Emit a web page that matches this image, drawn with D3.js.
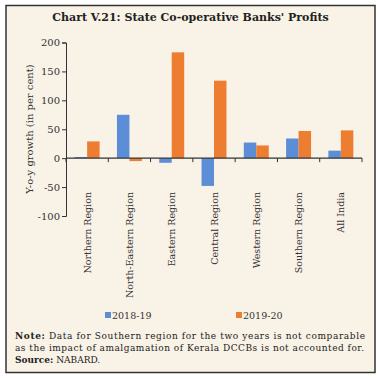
<!DOCTYPE html>
<html><head><meta charset="utf-8">
<script src="https://cdn.jsdelivr.net/npm/d3@7/dist/d3.min.js"></script>
<style>
html,body{margin:0;padding:0;background:#fff;}
svg{display:block;}
</style></head>
<body>
<svg id="chart" width="379" height="379"></svg>
<script>
const categories = ["Northern Region","North-Eastern Region","Eastern Region","Central Region","Western Region","Southern Region","All India"];
const seriesNames = ["2018-19","2019-20"];
const values2018 = [2, 75, -8, -48, 27, 34, 13];
const values2019 = [29, -5, 183, 134, 22, 47, 48];
const yTicks = [-100, -50, 0, 50, 100, 150, 200];
const colors = ["#5b8ed6", "#ed7d31"];

(function(){
const FONT = "'DejaVu Serif', 'Liberation Serif', serif";
const svg = d3.select("#chart");

svg.append("rect").attr("x",6).attr("y",5.5).attr("width",369).attr("height",367)
  .attr("fill","#f9f2e7").attr("stroke","#333").attr("stroke-width",1.5);

svg.append("text").attr("x",190.5).attr("y",21).attr("text-anchor","middle")
  .attr("font-family",FONT).attr("font-weight","bold").attr("font-size",11)
  .attr("fill","#222").text("Chart V.21: State Co-operative Banks' Profits");

const pl = 66, pr = 362, pt = 42.5, pb = 216;
const y = d3.scaleLinear().domain([-100,200]).range([pb, pt]);
const x0 = d3.scaleBand().domain(categories).range([pl,pr]).paddingInner(0.41).paddingOuter(0.205);
const x1 = d3.scaleBand().domain(seriesNames).range([0, x0.bandwidth()]);

const data = categories.map((c,i)=>({cat:c, vals:[values2018[i], values2019[i]]}));

const g = svg.append("g");
data.forEach(d=>{
  d.vals.forEach((v,j)=>{
    g.append("rect")
      .attr("x", x0(d.cat) + x1(seriesNames[j]))
      .attr("width", x1.bandwidth())
      .attr("y", y(Math.max(0,v)))
      .attr("height", Math.abs(y(v)-y(0)))
      .attr("fill", colors[j]);
  });
});

const yAxis = svg.append("g").attr("transform",`translate(${pl},0)`)
  .call(d3.axisLeft(y).tickValues(yTicks).tickSize(4).tickPadding(2).tickFormat(d=>String(d)));
yAxis.selectAll("text").attr("font-family",FONT).attr("font-size",10).attr("fill","#333");
yAxis.selectAll("line,path").attr("stroke","#333").attr("stroke-width",1);

const step = x0.step();
const bounds = d3.range(categories.length+1).map(i=>pl + i*step);
svg.append("line").attr("x1",pl).attr("x2",pr).attr("y1",y(0)).attr("y2",y(0))
  .attr("stroke","#333").attr("stroke-width",1.2);
bounds.forEach(bx=>{
  svg.append("line").attr("x1",bx).attr("x2",bx).attr("y1",y(0)).attr("y2",y(0)+4)
    .attr("stroke","#333").attr("stroke-width",1);
});

categories.forEach(c=>{
  const cx = x0(c) + x0.bandwidth()/2 + 3.5;
  svg.append("text").attr("transform",`translate(${cx},192) rotate(-90)`)
    .attr("text-anchor","end").attr("font-family",FONT).attr("font-size",9.5)
    .attr("fill","#333").text(c);
});

svg.append("text").attr("transform",`translate(33,129) rotate(-90)`)
  .attr("text-anchor","middle").attr("font-family",FONT).attr("font-size",10)
  .attr("fill","#333").text("Y-o-y growth (in per cent)");

const legendX = [105, 236];
seriesNames.forEach((s,j)=>{
  svg.append("rect").attr("x",legendX[j]).attr("y",312).attr("width",6).attr("height",6).attr("fill",colors[j]);
  svg.append("text").attr("x",legendX[j]+7).attr("y",319).attr("font-family",FONT)
    .attr("font-size",9.5).attr("fill","#333").text(s);
});

const note = svg.append("g").attr("font-family",FONT).attr("font-size",9).attr("fill","#222");
const l1 = note.append("text").attr("x",15).attr("y",339).attr("textLength",350).attr("lengthAdjust","spacing");
l1.append("tspan").attr("font-weight","bold").text("Note:");
l1.append("tspan").text(" Data for Southern region for the two years is not comparable");
note.append("text").attr("x",15).attr("y",351).attr("textLength",349).attr("lengthAdjust","spacing")
  .text("as the impact of amalgamation of Kerala DCCBs is not accounted for.");
const l3 = note.append("text").attr("x",15).attr("y",363);
l3.append("tspan").attr("font-weight","bold").text("Source:");
l3.append("tspan").text(" NABARD.");
})();
</script>
</body></html>
